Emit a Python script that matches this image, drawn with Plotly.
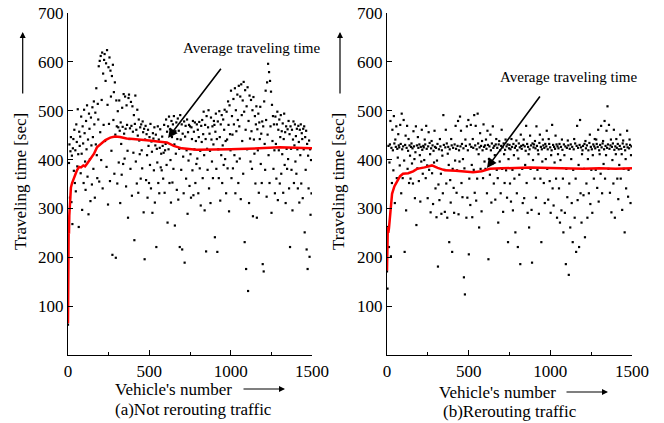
import plotly.graph_objects as go

# Vehicle numbers sampled every 3rd vehicle
vehicles = list(range(0, 1500, 3))

# (a) Not rerouting traffic: traveling time [sec] per vehicle
time_a = [
    62, 258, 393, 431, 322, 417, 446, 313, 408, 268, 423, 442, 377, 461, 352, 419, 335, 472, 436, 386, 503, 411, 262, 457, 428,
    447, 372, 488, 412, 297, 468, 433, 352, 502, 454, 396, 338, 479, 421, 511, 365, 441, 288, 494, 463, 401, 315, 486, 429, 349,
    507, 446, 381, 519, 472, 322, 496, 431, 546, 409, 362, 514, 482, 591, 355, 602, 456, 612, 399, 522, 619, 341, 576, 471, 604,
    616, 438, 561, 597, 385, 624, 512, 308, 589, 473, 609, 356, 582, 529, 418, 571, 205, 594, 481, 538, 371, 558, 451, 199, 521,
    468, 351, 499, 466, 394, 521, 459, 311, 476, 432, 369, 506, 467, 391, 534, 453, 402, 529, 463, 345, 511, 471, 418, 281, 526,
    533, 442, 464, 381, 518, 469, 326, 509, 457, 414, 491, 235, 473, 531, 396, 461, 351, 502, 449, 332, 482, 439, 411, 466, 361,
    472, 419, 382, 478, 456, 292, 463, 196, 441, 469, 358, 452, 409, 322, 461, 428, 352, 446, 389, 473, 341, 437, 416, 291, 454,
    443, 378, 466, 312, 429, 451, 221, 422, 394, 468, 352, 441, 331, 424, 462, 384, 412, 378, 447, 428, 361, 414, 471, 332, 419,
    432, 482, 389, 457, 271, 468, 421, 488, 352, 462, 399, 312, 479, 446, 353, 472, 381, 489, 431, 265, 458, 412, 476, 338, 442,
    484, 318, 459, 422, 221, 491, 441, 379, 472, 216, 453, 406, 331, 478, 189, 447, 469, 361, 419, 482, 289, 456, 398, 471, 346,
    468, 411, 322, 466, 442, 378, 479, 327, 457, 421, 476, 352, 438, 391, 472, 402, 461, 331, 446, 477, 382, 418, 306, 469, 436,
    481, 362, 452, 498, 409, 296, 471, 442, 212, 489, 422, 379, 466, 501, 341, 453, 418, 311, 486, 441, 396, 468, 362, 431, 479,
    471, 241, 457, 494, 381, 442, 211, 478, 421, 362, 499, 446, 316, 472, 409, 491, 352, 429, 482, 389, 461, 502, 401, 438, 331,
    498, 441, 382, 519, 471, 294, 511, 452, 419, 541, 362, 489, 451, 382, 524, 472, 409, 546, 331, 501, 458, 396, 533, 481, 352,
    551, 468, 402, 529, 319, 554, 491, 438, 521, 371, 559, 498, 231, 542, 461, 176, 509, 421, 548, 131, 479, 311, 531, 443, 396,
    522, 458, 381, 501, 284, 528, 441, 412, 489, 351, 472, 509, 281, 462, 419, 494, 332, 476, 442, 508, 391, 453, 352, 478, 186,
    468, 171, 519, 432, 379, 541, 481, 324, 558, 451, 596, 409, 579, 352, 561, 468, 539, 291, 512, 438, 489, 381, 472, 419, 331,
    488, 432, 361, 472, 498, 317, 461, 419, 482, 351, 446, 491, 371, 458, 411, 474, 332, 442, 494, 389, 456, 311, 468, 422, 381,
    462, 401, 479, 341, 452, 221, 468, 422, 379, 461, 296, 441, 478, 352, 429, 472, 396, 448, 371, 463, 421, 341, 469, 436, 312,
    461, 409, 472, 351, 454, 442, 321, 463, 421, 468, 251, 446, 379, 459, 216, 432, 176, 408, 341, 439, 201, 421, 287, 399, 331,
]

# (b) Rerouting traffic
time_b = [
    171, 136, 262, 428, 221, 394, 431, 479, 202, 424, 352, 461, 419, 378, 489, 433, 311, 441, 426, 468, 362, 422, 404, 452, 429,
    425, 388, 471, 432, 331, 494, 421, 362, 427, 481, 398, 211, 430, 449, 296, 424, 469, 381, 418, 442, 352, 429, 408, 361, 426,
    433, 392, 423, 351, 458, 427, 401, 321, 415, 468, 266, 429, 382, 446, 424, 356, 431, 409, 314, 426, 396, 461, 420, 371, 428,
    425, 399, 441, 431, 362, 469, 422, 388, 321, 427, 456, 379, 434, 411, 292, 423, 438, 372, 429, 309, 418, 394, 459, 426, 341,
    424, 282, 398, 432, 181, 349, 421, 317, 442, 427, 371, 289, 419, 408, 331, 491, 430, 379, 293, 425, 461, 351, 433, 281, 412,
    426, 389, 231, 421, 358, 312, 442, 429, 211, 381, 424, 342, 291, 431, 398, 469, 422, 332, 378, 428, 479, 288, 419, 396, 488,
    427, 459, 352, 432, 323, 401, 423, 159, 382, 124, 441, 428, 281, 468, 322, 419, 481, 206, 361, 431, 307, 471, 426, 389, 282,
    442, 424, 379, 491, 332, 429, 469, 316, 421, 361, 494, 433, 411, 261, 425, 454, 381, 428, 294, 438, 419, 362, 472, 426, 396,
    429, 381, 441, 422, 331, 459, 430, 196, 401, 427, 369, 451, 419, 312, 433, 391, 468, 424, 351, 428, 409, 318, 431, 442, 379,
    424, 362, 271, 431, 438, 396, 419, 331, 428, 461, 381, 425, 293, 433, 411, 352, 420, 441, 378, 427, 322, 431, 231, 401, 423,
    430, 351, 421, 314, 442, 426, 379, 296, 432, 409, 361, 424, 251, 428, 439, 331, 419, 221, 402, 433, 369, 425, 186, 451, 428,
    422, 381, 311, 430, 441, 321, 427, 389, 418, 469, 352, 432, 291, 426, 411, 261, 421, 449, 381, 429, 297, 189, 433, 399, 425,
    431, 361, 438, 423, 322, 468, 428, 379, 419, 411, 289, 434, 451, 361, 426, 231, 421, 396, 441, 429, 352, 424, 311, 432, 401,
    427, 459, 381, 421, 318, 442, 432, 356, 425, 291, 409, 419, 471, 341, 430, 306, 426, 394, 422, 449, 361, 431, 281, 427, 411,
    423, 341, 432, 271, 399, 426, 296, 441, 420, 361, 251, 431, 409, 291, 427, 186, 381, 424, 323, 439, 429, 164, 351, 422, 261,
    431, 401, 311, 426, 231, 379, 421, 442, 281, 433, 361, 211, 428, 469, 317, 424, 389, 221, 430, 481, 331, 425, 271, 411, 419,
    428, 327, 381, 432, 241, 438, 423, 351, 429, 281, 401, 419, 331, 434, 451, 309, 426, 379, 421, 291, 409, 431, 361, 427, 442,
    423, 379, 441, 432, 342, 426, 461, 314, 419, 411, 430, 371, 469, 425, 331, 433, 438, 391, 421, 479, 361, 428, 409, 459, 424,
    509, 431, 381, 471, 422, 332, 429, 441, 292, 426, 399, 433, 351, 461, 420, 281, 427, 411, 442, 424, 361, 432, 319, 421, 389,
    428, 451, 361, 422, 411, 297, 433, 439, 381, 426, 251, 419, 401, 341, 431, 459, 425, 324, 379, 423, 441, 430, 311, 409, 427,
]

# Average traveling time (running mean) curves
avg_a_x = [0, 2, 4, 6, 8, 10, 14, 18, 25, 32, 43, 55, 68, 80, 94, 105, 118, 130, 145, 160, 178, 200, 230, 260, 289, 320, 360, 400, 450, 500, 550, 608, 650, 700, 790, 900, 1000, 1100, 1200, 1300, 1400, 1500]
avg_a_y = [65, 200, 255, 248, 285, 300, 325, 343, 352, 358, 371, 378, 385, 384, 388, 386, 392, 398, 405, 412, 425, 432, 440, 445, 447, 446, 443, 442, 441, 439, 437, 435, 428, 423, 420, 420, 421, 422, 424, 425, 424, 423]

avg_b_x = [0, 3, 5, 8, 12, 18, 25, 31, 45, 67, 80, 98, 130, 160, 184, 230, 275, 310, 355, 420, 480, 527, 580, 630, 700, 875, 1000, 1100, 1200, 1300, 1400, 1500]
avg_b_y = [173, 240, 262, 250, 259, 280, 316, 330, 345, 357, 366, 371, 372, 376, 381, 384, 388, 383, 378, 377, 376, 374, 376, 381, 382, 384, 383, 382, 381, 382, 381, 382]

x_ticks = [0, 500, 1000, 1500]
x_minor = [250, 750, 1250]
y_ticks = [100, 200, 300, 400, 500, 600, 700]

SERIF = "Liberation Serif, Times New Roman, serif"

fig = go.Figure()
fig.add_trace(go.Scatter(x=vehicles, y=time_a, mode="markers",
                         marker=dict(color="black", size=2.2, symbol="square"),
                         xaxis="x", yaxis="y", showlegend=False))
fig.add_trace(go.Scatter(x=avg_a_x, y=avg_a_y, mode="lines",
                         line=dict(color="#ff0000", width=2.5),
                         xaxis="x", yaxis="y", showlegend=False))
fig.add_trace(go.Scatter(x=vehicles, y=time_b, mode="markers",
                         marker=dict(color="black", size=2.2, symbol="square"),
                         xaxis="x2", yaxis="y2", showlegend=False))
fig.add_trace(go.Scatter(x=avg_b_x, y=avg_b_y, mode="lines",
                         line=dict(color="#ff0000", width=2.5),
                         xaxis="x2", yaxis="y2", showlegend=False))

W, H = 664, 423
def px(v):
    return v / W
def py(v):
    return (H - v) / H

xaxis_common = dict(range=[0, 1500], tickvals=x_ticks, ticks="inside", ticklen=5,
                    tickcolor="black", showline=True, linecolor="black", linewidth=1.3,
                    showgrid=False, zeroline=False, automargin=False,
                    tickfont=dict(family=SERIF, size=17, color="black"),
                    minor=dict(tickvals=x_minor, ticks="inside", ticklen=3, tickcolor="black"))
yaxis_common = dict(range=[0, 700], tickvals=y_ticks, ticks="inside", ticklen=5,
                    tickcolor="black", showline=True, linecolor="black", linewidth=1.3,
                    showgrid=False, zeroline=False, automargin=False,
                    tickfont=dict(family=SERIF, size=17, color="black"))

ydom = [py(355), py(13)]
fig.update_layout(
    width=W, height=H,
    margin=dict(l=0, r=0, t=0, b=0, autoexpand=False),
    paper_bgcolor="white", plot_bgcolor="white",
    xaxis=dict(domain=[px(68), px(312)], anchor="y", **xaxis_common),
    yaxis=dict(domain=ydom, anchor="x", **yaxis_common),
    xaxis2=dict(domain=[px(387), px(632)], anchor="y2", **xaxis_common),
    yaxis2=dict(domain=ydom, anchor="x2", **yaxis_common),
)

ann = []
font17 = dict(family=SERIF, size=17, color="black")
font15 = dict(family=SERIF, size=15, color="black")

# x-axis titles and captions
ann.append(dict(text="Vehicle's number", x=px(173.5), y=py(389), xref="paper", yref="paper",
                showarrow=False, font=font17, xanchor="center", yanchor="middle"))
ann.append(dict(text="(a)Not rerouting traffic", x=px(193.5), y=py(409), xref="paper", yref="paper",
                showarrow=False, font=font17, xanchor="center", yanchor="middle"))
ann.append(dict(text="Vehicle's number", x=px(497), y=py(392), xref="paper", yref="paper",
                showarrow=False, font=font17, xanchor="center", yanchor="middle"))
ann.append(dict(text="(b)Rerouting traffic", x=px(510), y=py(411), xref="paper", yref="paper",
                showarrow=False, font=font17, xanchor="center", yanchor="middle"))

# x-axis title arrows
for hx, hy, length in [(285, 389, 43), (608, 392, 43)]:
    ann.append(dict(text="", x=px(hx), y=py(hy), xref="paper", yref="paper",
                    ax=-length, ay=0, showarrow=True, arrowhead=2, arrowsize=1,
                    arrowwidth=1.2, arrowcolor="black"))

# y-axis titles
for cx in (21, 339):
    ann.append(dict(text="Traveling time [sec]", x=px(cx), y=py(182), xref="paper", yref="paper",
                    showarrow=False, font=font17, textangle=-90,
                    xanchor="center", yanchor="middle"))
# y-axis title arrows
for cx in (22.7, 340):
    ann.append(dict(text="", x=px(cx), y=py(32), xref="paper", yref="paper",
                    ax=0, ay=63, showarrow=True, arrowhead=2, arrowsize=1,
                    arrowwidth=1.2, arrowcolor="black"))

# "Average traveling time" annotations
ann.append(dict(text="Average traveling time", x=1131, y=628, xref="x", yref="y",
                showarrow=False, font=font15, xanchor="center", yanchor="middle"))
ann.append(dict(text="", x=615, y=444, xref="x", yref="y", ax=947, ay=589,
                axref="x", ayref="y", showarrow=True, arrowhead=2, arrowsize=1.2,
                arrowwidth=1.6, arrowcolor="black"))
ann.append(dict(text="Average traveling time", x=1114, y=569, xref="x2", yref="y2",
                showarrow=False, font=font15, xanchor="center", yanchor="middle"))
ann.append(dict(text="", x=612, y=383, xref="x2", yref="y2", ax=943, ay=532,
                axref="x2", ayref="y2", showarrow=True, arrowhead=2, arrowsize=1.2,
                arrowwidth=1.6, arrowcolor="black"))

fig.update_layout(annotations=ann)
fig.write_html("out.html", config={"displayModeBar": False},
               post_script="document.body.style.margin='0';document.body.style.overflow='hidden';")
